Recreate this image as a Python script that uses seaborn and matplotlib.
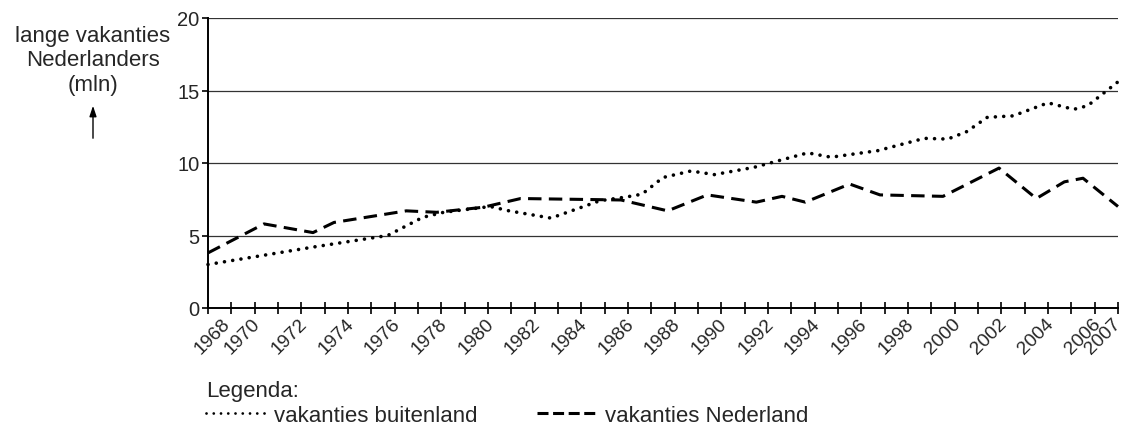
import matplotlib
matplotlib.use("Agg")
import matplotlib.pyplot as plt
import matplotlib.transforms as mtransforms
from matplotlib.lines import Line2D
import seaborn as sns

# vakanties Nederland (dashed) - knikpunten
ned_years = [1968, 1970.4, 1972.5, 1973.4, 1976.5, 1977.8, 1979.8, 1981.4, 1985.7,
             1987.7, 1989.4, 1991.5, 1992.6, 1993.6, 1995.5, 1996.8, 1999.5, 2001.9,
             2003.5, 2004.7, 2005.5, 2007]
ned_vals = [3.8, 5.8, 5.2, 5.9, 6.7, 6.6, 6.95, 7.55, 7.45,
            6.7, 7.8, 7.3, 7.7, 7.3, 8.55, 7.8, 7.7, 9.65,
            7.55, 8.7, 8.95, 7.0]

# vakanties buitenland (dotted)
buit_years = [1968, 1972.5, 1975.7, 1977.2, 1978.1, 1980.1, 1980.9, 1982.7, 1984.8,
              1985.9, 1986.6, 1987.5, 1988.7, 1989.7, 1991.4, 1993.7, 1994.7, 1996.7,
              1998.7, 1999.7, 2000.5, 2001.4, 2002.5, 2004.0, 2005.1, 2005.7, 2007]
buit_vals = [3.0, 4.2, 5.0, 6.25, 6.6, 7.0, 6.7, 6.2, 7.4,
             7.65, 7.85, 9.0, 9.45, 9.2, 9.7, 10.7, 10.4, 10.85,
             11.7, 11.65, 12.15, 13.15, 13.25, 14.15, 13.7, 13.95, 15.6]

tick_years = list(range(1968, 2008))
label_years = list(range(1968, 2007, 2)) + [2007]
y_ticks = [0, 5, 10, 15, 20]

sns.set_theme(style="white")
plt.rcParams["font.family"] = ["Liberation Sans", "DejaVu Sans"]

W, H = 1124, 427
fig = plt.figure(figsize=(W / 100, H / 100), dpi=100)
ax = fig.add_axes([208 / W, 1 - 309 / H, 910 / W, 290 / H])

sns.lineplot(x=buit_years, y=buit_vals, ax=ax, color="black", lw=2.6,
             linestyle=(0, (0.01, 2.3)), dash_capstyle="round", clip_on=False)
sns.lineplot(x=ned_years, y=ned_vals, ax=ax, color="black", lw=2.2,
             linestyle=(0, (4.4, 2.4)), clip_on=False)
if ax.get_legend() is not None:
    ax.get_legend().remove()

ax.set_xlim(1968, 2007)
ax.set_ylim(0, 20)
ax.set_yticks(y_ticks)
ax.set_yticklabels([str(v) for v in y_ticks], fontsize=14.5)
ax.set_xticks(tick_years, minor=True)
ax.set_xticks(label_years)
ax.set_xticklabels([str(y) for y in label_years], fontsize=13.8, rotation=45,
                   ha="right", va="top", rotation_mode="anchor")
ax.set_xlabel("")
ax.set_ylabel("")

ax.grid(axis="y", color="#333333", lw=0.9)
ax.grid(axis="x", visible=False)
for side in ["top", "right"]:
    ax.spines[side].set_visible(False)
for side in ["left", "bottom"]:
    ax.spines[side].set_color("black")
    ax.spines[side].set_linewidth(1.4)
ax.tick_params(axis="y", direction="out", length=4, width=1.2, color="black", pad=2,
               left=True)
ax.tick_params(axis="x", which="both", direction="inout", length=8, width=1.2,
               color="black", pad=1, bottom=True)

# labels sit slightly left of their tick; first one is pushed right, last one left
labels = ax.get_xticklabels()
for i, lab in enumerate(labels):
    dx = -0.03
    if i == 0:
        dx = 0.13
    elif i == len(labels) - 1:
        dx = -0.055
    lab.set_transform(lab.get_transform()
                      + mtransforms.ScaledTranslation(dx, 0, fig.dpi_scale_trans))

fig.text(93 / W, 1 - 61 / H, "lange vakanties\nNederlanders\n(mln)", ha="center",
         va="center", fontsize=16, linespacing=1.22)
fig.add_artist(matplotlib.patches.FancyArrowPatch(
    (93 / W, 1 - 142 / H), (93 / W, 1 - 104 / H), transform=fig.transFigure,
    arrowstyle="-|>,head_length=0.45,head_width=0.15", color="black", lw=1,
    mutation_scale=14))

handles = [
    Line2D([], [], color="black", lw=2.0, linestyle=(0, (0.01, 2.6)),
           dash_capstyle="round"),
    Line2D([], [], color="black", lw=2.2, linestyle=(0, (3.6, 1.5))),
]
leg = fig.legend(handles=handles,
                 labels=["vakanties buitenland", "vakanties Nederland"],
                 loc="lower left", bbox_to_anchor=(206 / W, 0), ncol=2,
                 frameon=False, title="Legenda:", alignment="left", fontsize=16,
                 title_fontsize=16, handlelength=2.75, handletextpad=0.3,
                 columnspacing=2.7, borderpad=0, borderaxespad=0)
leg._legend_box.sep = 3

fig.savefig("out.png", dpi=100)
